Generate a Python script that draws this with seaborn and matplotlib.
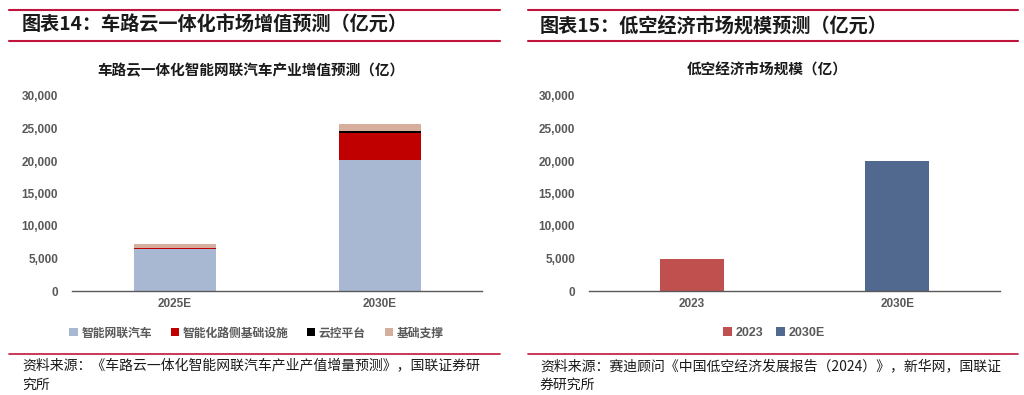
import matplotlib
matplotlib.use("Agg")
import matplotlib.pyplot as plt
import seaborn as sns
import pandas as pd
import numpy as np
from matplotlib.lines import Line2D
from matplotlib.patches import Patch

sns.set_theme(style="white")
plt.rcParams['font.family'] = ['Liberation Sans', 'Noto Sans CJK SC', 'DejaVu Sans']

# ---- data ----
left_categories = ["2025E", "2030E"]
left_series = ["智能网联汽车", "智能化路侧基础设施", "云控平台", "基础支撑"]
icv_values = [6400, 20100]
roadside_values = [200, 4150]
cloud_values = [40, 300]
support_values = [600, 1200]
left_colors = ["#A9B8D2", "#C00000", "#000000", "#D6AE9D"]

right_categories = ["2023", "2030E"]
right_values = [5000, 20000]
right_colors = ["#C0504D", "#51688F"]

yticks = [0, 5000, 10000, 15000, 20000, 25000, 30000]

W, H = 1024, 395
fig = plt.figure(figsize=(W / 100, H / 100), dpi=100)

def px_rect(x0, y_top, x1, y_bot):
    return [x0 / W, 1 - y_bot / H, (x1 - x0) / W, (y_bot - y_top) / H]

tick_color = "#595959"
cjk = ['Noto Sans CJK SC', 'DejaVu Sans']

def style_axis(ax, cats):
    ax.set_ylim(0, 30000)
    ax.set_xlim(-0.5, 1.5)
    ax.set_yticks(yticks)
    ax.set_yticklabels([f"{v:,}" for v in yticks], fontsize=8.5, fontweight="bold", color=tick_color)
    ax.set_xticks(range(len(cats)))
    ax.set_xticklabels(cats, fontsize=8.5, fontweight="bold", color=tick_color)
    for s in ["top", "right", "left"]:
        ax.spines[s].set_visible(False)
    ax.spines["bottom"].set_color("#595959")
    ax.spines["bottom"].set_linewidth(1.0)
    ax.tick_params(axis="y", length=0, pad=10)
    ax.tick_params(axis="x", length=0, pad=5)
    ax.set_xlabel("")
    ax.set_ylabel("")
    ax.grid(False)

# ---- left chart ----
ax1 = fig.add_axes(px_rect(72, 96, 482, 291))
series_vals = [icv_values, roadside_values, cloud_values, support_values]
bottom = np.zeros(len(left_categories))
for name, vals, col in zip(left_series, series_vals, left_colors):
    df = pd.DataFrame({"cat": left_categories, "val": vals})
    sns.barplot(data=df, x="cat", y="val", color=col, width=0.4, bottom=bottom,
                ax=ax1, saturation=1, order=left_categories, linewidth=0, edgecolor="none")
    bottom = bottom + np.array(vals)
style_axis(ax1, left_categories)
handles = [Patch(facecolor=c, edgecolor="none") for c in left_colors]
ax1.legend(handles, left_series, loc="center", bbox_to_anchor=(0.45, -0.215), ncol=4,
           frameon=False, handlelength=0.7, handleheight=0.7, handletextpad=0.3,
           columnspacing=1.6, prop={"family": cjk, "size": 8.5, "weight": "bold"},
           labelcolor=tick_color)

# ---- right chart ----
ax2 = fig.add_axes(px_rect(589, 96, 1000, 291))
df2 = pd.DataFrame({"cat": right_categories, "val": right_values})
sns.barplot(data=df2, x="cat", y="val", hue="cat", palette=right_colors, width=0.31,
            dodge=False, ax=ax2, saturation=1, legend=False, order=right_categories,
            linewidth=0, edgecolor="none")
style_axis(ax2, right_categories)
handles2 = [Patch(facecolor=c, edgecolor="none") for c in right_colors]
ax2.legend(handles2, right_categories, loc="center", bbox_to_anchor=(0.45, -0.215), ncol=2,
           frameon=False, handlelength=0.7, handleheight=0.7, handletextpad=0.3,
           columnspacing=1.0, prop={"family": ['Liberation Sans'], "size": 9, "weight": "bold"},
           labelcolor=tick_color)

# ---- titles & decorations ----
red = "#C0143C"
def hline(x0, x1, y, lw=1.5):
    fig.add_artist(Line2D([x0 / W, x1 / W], [1 - y / H, 1 - y / H], color=red, lw=lw))

for (x0, x1) in [(9, 500), (528, 1018)]:
    hline(x0, x1, 10)
    hline(x0, x1, 41)
    hline(x0, x1, 354, lw=1.2)

fig.text(22 / W, 1 - 25.5 / H, "图表14：车路云一体化市场增值预测（亿元）", fontsize=13.8,
         fontweight="bold", family=cjk, va="center", ha="left", color="#1a1a1a")
fig.text(540 / W, 1 - 25.5 / H, "图表15：低空经济市场规模预测（亿元）", fontsize=13.8,
         fontweight="bold", family=cjk, va="center", ha="left", color="#1a1a1a")

fig.text(251 / W, 1 - 70 / H, "车路云一体化智能网联汽车产业增值预测（亿）", fontsize=10.5,
         fontweight="bold", family=cjk, va="center", ha="center", color="#1a1a1a")
fig.text(767 / W, 1 - 70 / H, "低空经济市场规模（亿）", fontsize=10.5,
         fontweight="bold", family=cjk, va="center", ha="center", color="#1a1a1a")

fig.text(22 / W, 1 - 366 / H, "资料来源：《车路云一体化智能网联汽车产业产值增量预测》，国联证券研",
         fontsize=10, family=cjk, va="center", ha="left", color="#1a1a1a")
fig.text(22 / W, 1 - 385 / H, "究所", fontsize=10, family=cjk, va="center", ha="left", color="#1a1a1a")
fig.text(540 / W, 1 - 366 / H, "资料来源：赛迪顾问《中国低空经济发展报告（2024）》，新华网，国联证",
         fontsize=10, family=cjk, va="center", ha="left", color="#1a1a1a")
fig.text(540 / W, 1 - 385 / H, "券研究所", fontsize=10, family=cjk, va="center", ha="left", color="#1a1a1a")

fig.savefig("out.png", dpi=100, facecolor="white")
